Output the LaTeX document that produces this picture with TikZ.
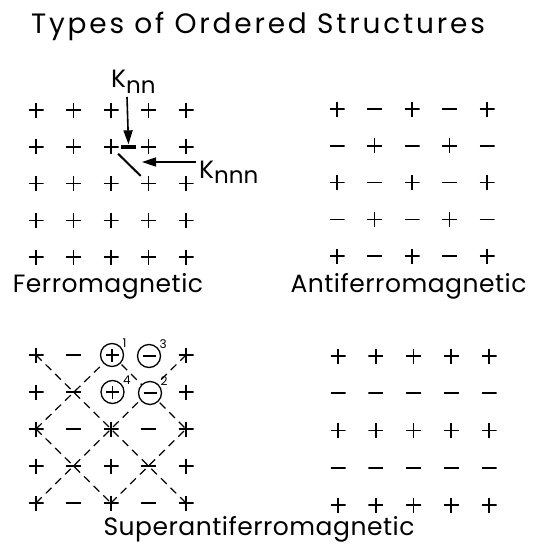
\documentclass[tikz,border=0pt]{standalone}
\usepackage{fontspec}
\setmainfont{Poppins}
\newfontfamily\letterfont[LetterSpace=2]{Poppins}
\newfontfamily\titlefont[LetterSpace=10]{Poppins}
\usetikzlibrary{arrows.meta,backgrounds}

\begin{document}
\begin{tikzpicture}[x=1pt, y=-1pt,
  site/.style={inner sep=0pt, minimum size=15pt},
  spinup/.style={site, path picture={\draw[line width=1.6pt] (path picture bounding box.west) -- (path picture bounding box.east) (path picture bounding box.north) -- (path picture bounding box.south);}},
  spindn/.style={site, path picture={\draw[line width=1.6pt] (path picture bounding box.west) -- (path picture bounding box.east);}},
  ring/.style={circle, draw, line width=1.3pt, fill=white, minimum size=23pt, inner sep=0pt},
  ringup/.style={ring, path picture={\draw[line width=1.6pt] ([xshift=-6.5pt]path picture bounding box.center) -- ([xshift=6.5pt]path picture bounding box.center) ([yshift=-6.5pt]path picture bounding box.center) -- ([yshift=6.5pt]path picture bounding box.center);}},
  ringdn/.style={ring, path picture={\draw[line width=1.6pt] ([xshift=-6.5pt]path picture bounding box.center) -- ([xshift=6.5pt]path picture bounding box.center);}},
  numlbl/.style={font=\fontsize{12}{12}\selectfont, inner sep=0.5pt},
  caption/.style={font=\letterfont\fontsize{25}{25}\selectfont, inner sep=0pt, anchor=base},
  klabel/.style={font=\fontsize{25}{25}\selectfont, inner sep=0pt, anchor=base west},
  karrow/.style={line width=1.6pt, -{Triangle[length=14pt,width=9pt]}},
  nnbar/.style={fill, minimum width=15pt, minimum height=4.5pt, inner sep=0pt},
  diag/.style={line width=1.2pt, dash pattern=on 8pt off 5.5pt}]
\useasboundingbox (0,0) rectangle (536,544);

\node[font=\titlefont\fontsize{28}{28}\selectfont, inner sep=0pt, anchor=base] (title) at (258,33) {Types of Ordered Structures};

% ferromagnetic
\foreach \i in {1,...,5}{
  \foreach \j in {1,...,5}{
    \node[spinup] (f\i\j) at ({36+37.5*(\j-1)},{110+36.8*(\i-1)}) {};
  }
}
\node[nnbar] (nnb) at (128.5,146.8) {};
\draw[line width=2pt, shorten <=10pt, shorten >=11pt] (f23.center) -- (f34.center);
\node[klabel] (knn) at (111,87) {K\raisebox{-6pt}{\fontsize{23}{23}\selectfont nn}};
\coordinate (knntail) at (127,97);
\draw[karrow] (knntail) -- (nnb.north);
\node[klabel] (knnn) at (199,178) {K\raisebox{-5pt}{\fontsize{23}{23}\selectfont nnn}};
\coordinate (knnntail) at (196,162);
\coordinate (knnntip) at (142,162);
\draw[karrow] (knnntail) -- (knnntip);
\node[caption] (ferro) at (108,292) {Ferromagnetic};

% antiferromagnetic
\foreach \i in {1,...,5}{
  \foreach \j in {1,...,5}{
    \pgfmathtruncatemacro\parity{\i+\j}
    \ifodd\parity
      \node[spindn] (a\i\j) at ({337+37.5*(\j-1)},{109+36.8*(\i-1)}) {};
    \else
      \node[spinup] (a\i\j) at ({337+37.5*(\j-1)},{109+36.8*(\i-1)}) {};
    \fi
  }
}
\node[caption] (antiferro) at (408.5,292) {Antiferromagnetic};

% superantiferromagnetic
\foreach \i in {1,...,5}{
  \foreach \j in {1,...,5}{
    \pgfmathtruncatemacro\iscirc{and(\i<3,and(\j>2,\j<5))}
    \ifnum\iscirc=0
      \ifodd\j
        \node[spinup] (s\i\j) at ({36+37.5*(\j-1)},{355+37*(\i-1)}) {};
      \else
        \node[spindn] (s\i\j) at ({36+37.5*(\j-1)},{355+37*(\i-1)}) {};
      \fi
    \fi
  }
}
\node[ringup, label={[numlbl]35:1}] (s13) at (112,355) {};
\node[ringdn, label={[numlbl]35:3}] (s14) at (149,356) {};
\node[ringup, label={[numlbl]35:4}] (s23) at (112.5,392) {};
\node[ringdn, label={[numlbl]35:2}] (s24) at (150,393) {};
\begin{scope}[on background layer]
\draw[diag] (s11.center) -- (s55.center);
\draw[diag] (s15.center) -- (s51.center);
\draw[diag] (s31.center) -- (s13.center);
\draw[diag] (s13.center) -- (s35.center);
\draw[diag] (s31.center) -- (s53.center);
\draw[diag] (s53.center) -- (s35.center);
\end{scope}
\node[caption] (superantiferro) at (259,535) {Superantiferromagnetic};

% layered
\foreach \i in {1,...,5}{
  \foreach \j in {1,...,5}{
    \ifodd\i
      \node[spinup] (l\i\j) at ({338+37.75*(\j-1)},{356+37.25*(\i-1)}) {};
    \else
      \node[spindn] (l\i\j) at ({338+37.75*(\j-1)},{356+37.25*(\i-1)}) {};
    \fi
  }
}
\end{tikzpicture}
\end{document}
